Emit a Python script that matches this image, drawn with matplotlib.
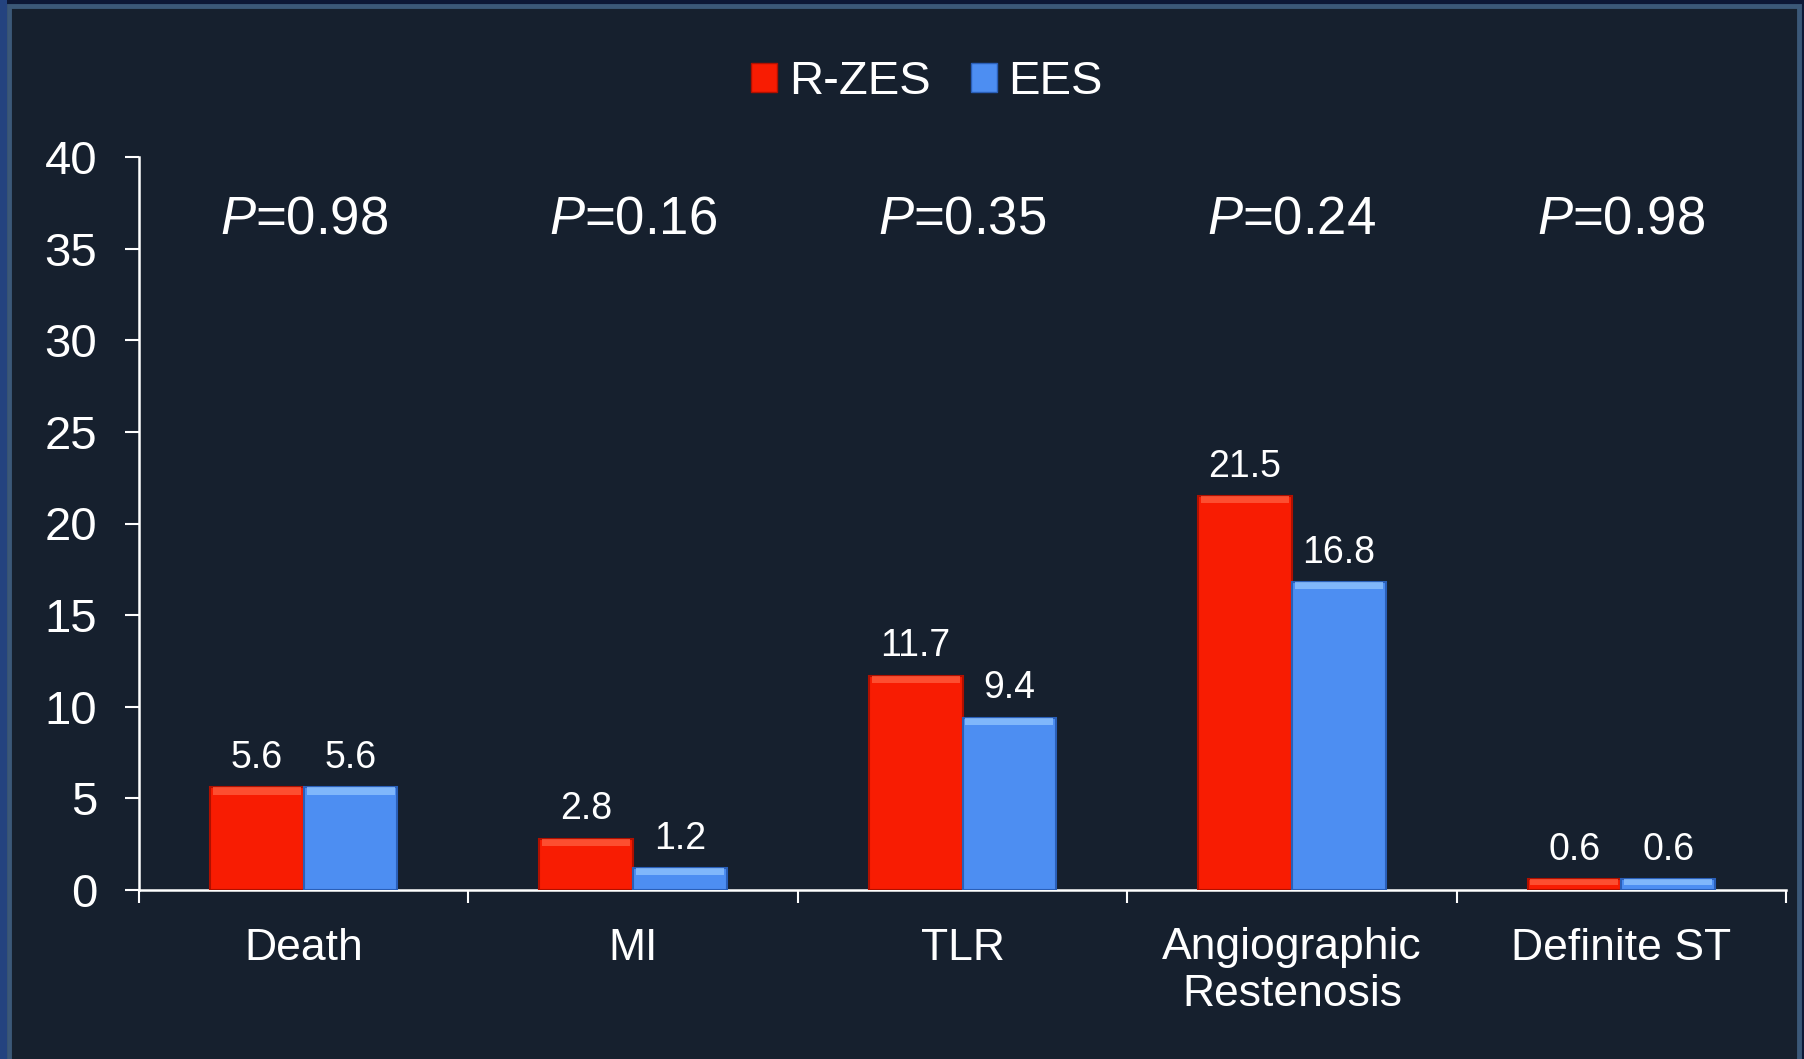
import matplotlib
matplotlib.use("Agg")
import matplotlib.pyplot as plt
from matplotlib.patches import Rectangle, Patch
import numpy as np

categories = ["Death", "MI", "TLR", "Angiographic\nRestenosis", "Definite ST"]
rzes = [5.6, 2.8, 11.7, 21.5, 0.6]
ees = [5.6, 1.2, 9.4, 16.8, 0.6]
pvals = ["0.98", "0.16", "0.35", "0.24", "0.98"]
series_names = ["R-ZES", "EES"]
yticks = [0, 5, 10, 15, 20, 25, 30, 35, 40]

plt.rcParams['font.family'] = ['Liberation Sans', 'DejaVu Sans']
plt.rcParams['mathtext.fontset'] = 'custom'
plt.rcParams['mathtext.it'] = 'Liberation Sans:italic'
plt.rcParams['mathtext.rm'] = 'Liberation Sans'

W, H = 1804, 1059
fig = plt.figure(figsize=(W / 100, H / 100), dpi=100)
fig.patch.set_facecolor("#0d1836")

panel_col = "#16202e"
stroke_col = "#3b5878"
# left gradient-ish strip
fig.patches.append(Rectangle((0, 0), 7 / W, 1, transform=fig.transFigure,
                             facecolor="#24437f", edgecolor="none", zorder=-3))
# panel with stroke
fig.patches.append(Rectangle((8.5 / W, -0.01), (1799 - 8.5) / W, (H - 6) / H + 0.01,
                             transform=fig.transFigure, facecolor=panel_col,
                             edgecolor=stroke_col, linewidth=3.5, zorder=-2))

ax = fig.add_axes([139 / W, 1 - 890 / H, (1786 - 139) / W, (890 - 157) / H])
ax.set_facecolor("none")
ax.set_zorder(2)

x = np.arange(len(categories))
bw = 0.2845

red_face, red_edge, red_top = "#f81c02", "#b01000", "#ff6040"
blue_face, blue_edge, blue_top = "#4d8ef2", "#2a5fb8", "#92c6ff"

strip = 0.4
for vals, off, face, edge, top in [(rzes, -bw / 2, red_face, red_edge, red_top),
                                   (ees, bw / 2, blue_face, blue_edge, blue_top)]:
    vals = np.array(vals)
    ax.bar(x + off, vals, width=bw, color=face, edgecolor=edge, linewidth=1.5, zorder=3)
    sh = np.minimum(strip, vals * 0.5)
    ax.bar(x + off, sh, bottom=vals - sh, width=bw * 0.94, color=top,
           edgecolor="none", zorder=4, alpha=0.75)
    for xi, v in zip(x + off, vals):
        ax.annotate(f"{v:.1f}", (xi, v), xytext=(0, 14), textcoords="offset points",
                    ha="center", va="baseline", color="white", fontsize=27, zorder=5)

for xi, p in zip(x, pvals):
    ax.text(xi, 35.8, r"$\mathit{P}$=" + p, ha="center", va="baseline",
            color="white", fontsize=38)

ax.set_xlim(-0.5, len(categories) - 0.5)
ax.set_ylim(0, 40)
ax.set_yticks(yticks)
ax.set_yticklabels([str(t) for t in yticks])
ax.set_xticks(x)
ax.set_xticklabels(categories, linespacing=1.17)
ax.set_xticks(np.arange(-0.5, len(categories)), minor=True)

ax.tick_params(axis="y", colors="white", labelcolor="white", labelsize=34,
               length=10, width=1.5, pad=20, direction="out")
ax.tick_params(axis="x", which="major", length=0, labelsize=32, labelcolor="white", pad=27)
ax.tick_params(axis="x", which="minor", length=9, width=1.5, color="white", direction="out")

for s in ["top", "right"]:
    ax.spines[s].set_visible(False)
for s in ["left", "bottom"]:
    ax.spines[s].set_color("white")
    ax.spines[s].set_linewidth(1.8)

handles = [Patch(facecolor=red_face, edgecolor=red_edge, label=series_names[0]),
           Patch(facecolor=blue_face, edgecolor=blue_edge, label=series_names[1])]
leg = fig.legend(handles=handles, loc="center", bbox_to_anchor=(927 / W, 1 - 82 / H),
                 ncol=2, frameon=False, fontsize=34, handlelength=0.55, handleheight=0.55,
                 handletextpad=0.25, columnspacing=0.85, borderpad=0)
leg.set_zorder(3)
for t in leg.get_texts():
    t.set_color("white")

fig.savefig("out.png", dpi=100, facecolor=fig.get_facecolor())
